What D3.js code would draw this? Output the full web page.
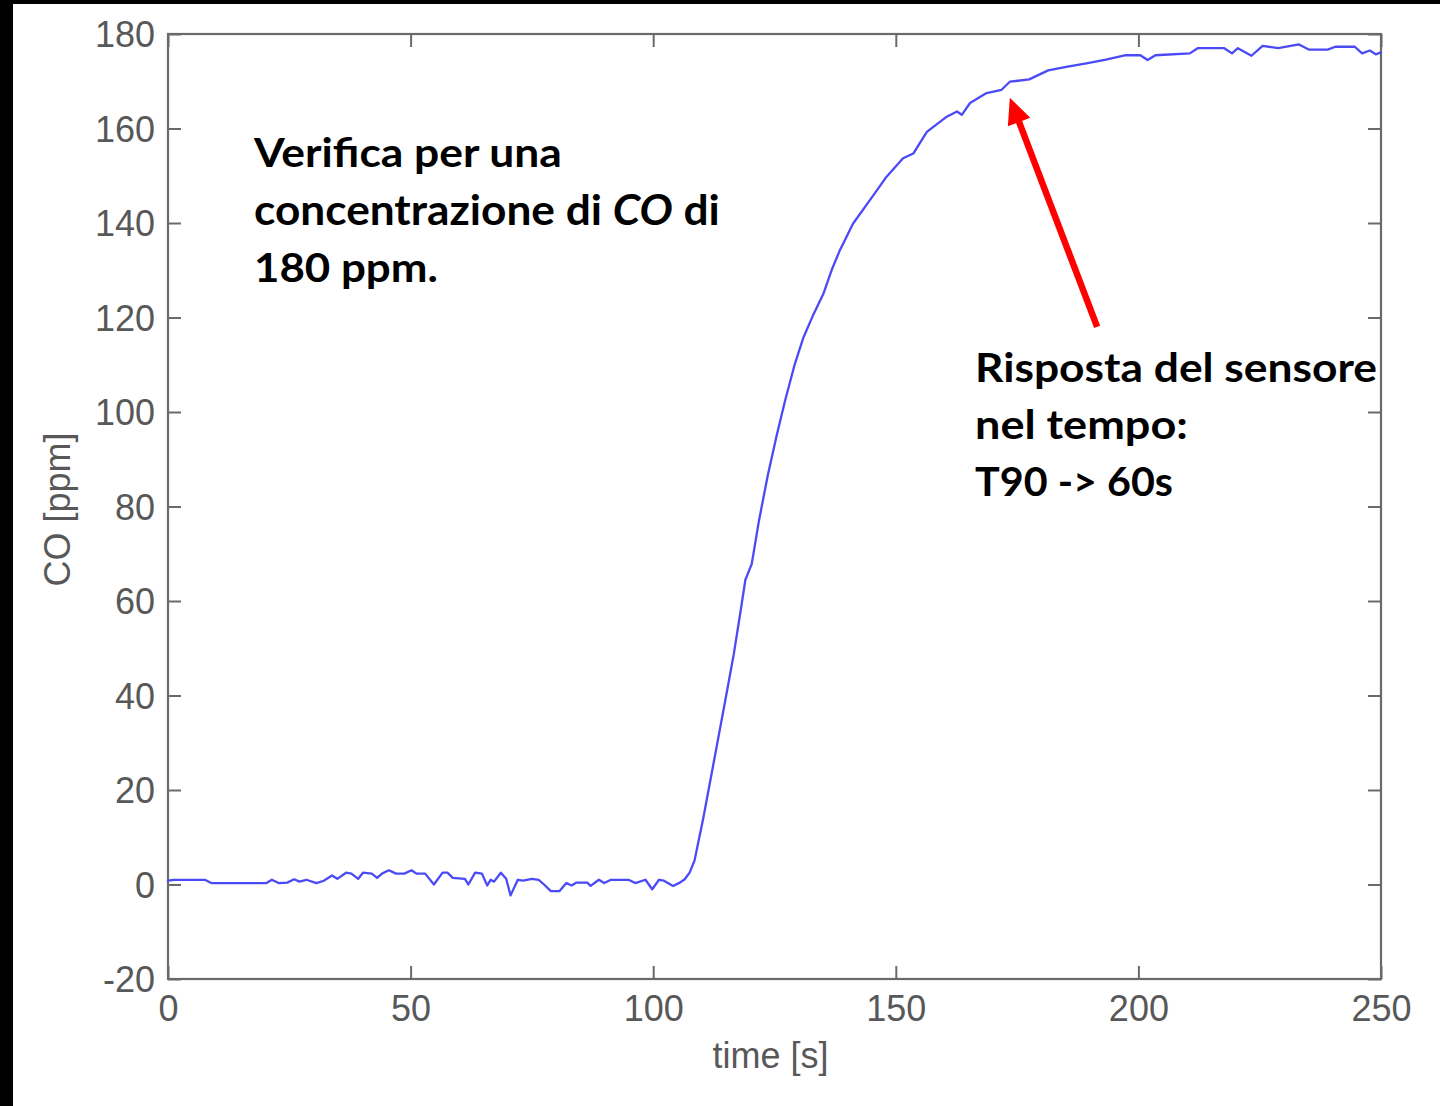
<!DOCTYPE html>
<html><head><meta charset="utf-8">
<script src="https://cdn.jsdelivr.net/npm/d3@7"></script>
<style>html,body{margin:0;padding:0;background:#fff;overflow:hidden;} svg{display:block;}</style>
</head><body>
<svg id="chart" width="1440" height="1106"></svg>
<script>
// ---- data ----
const timeS = [0, 1.2, 7.6, 8.9, 20.3, 21.4, 22.8, 24.6, 26.0, 27.1, 28.5, 30.6, 32.1, 33.8, 34.9, 36.7, 37.8, 39.2, 40.2, 42.0, 43.1, 44.1, 45.5, 47.0, 48.7, 50.2, 51.2, 53.0, 54.8, 56.6, 57.6, 58.7, 61.2, 61.9, 63.3, 64.7, 65.8, 66.5, 67.2, 68.6, 69.7, 70.6, 72.1, 73.2, 75.0, 76.4, 77.5, 78.9, 80.7, 82.1, 83.2, 84.2, 86.4, 87.1, 88.8, 89.9, 91.3, 94.9, 96.3, 98.4, 99.8, 101.2, 102.2, 104.1, 105.5, 106.5, 107.5, 108.5, 110.3, 112.5, 114.7, 116.6, 118.0, 119.0, 120.3, 121.8, 123.6, 125.4, 127.2, 129.2, 130.9, 133.0, 135.1, 136.8, 138.5, 141.2, 144.7, 148.1, 151.5, 153.6, 156.4, 160.5, 162.6, 163.6, 165.3, 168.7, 171.8, 173.5, 177.5, 181.4, 185.4, 189.3, 193.3, 197.2, 200.4, 201.9, 203.5, 210.6, 212.2, 217.7, 219.3, 220.5, 223.3, 225.6, 228.8, 233.1, 235.1, 239.0, 240.6, 244.6, 246.1, 247.7, 248.9, 250];
const coPpm = [0.8, 1.0, 1.0, 0.3, 0.3, 1.0, 0.3, 0.4, 1.1, 0.6, 1.0, 0.3, 0.8, 1.9, 1.2, 2.5, 2.3, 1.2, 2.5, 2.3, 1.4, 2.3, 3.0, 2.3, 2.3, 3.0, 2.3, 2.3, 0.0, 2.5, 2.5, 1.4, 1.2, 0.0, 2.5, 2.3, -0.2, 1.0, 0.6, 2.5, 1.2, -2.3, 1.0, 0.8, 1.2, 1.0, 0.0, -1.4, -1.4, 0.3, -0.2, 0.4, 0.4, -0.3, 1.0, 0.3, 1.0, 1.0, 0.3, 1.0, -1.0, 1.0, 0.8, -0.3, 0.4, 1.1, 2.5, 5.0, 13.9, 26.0, 38.1, 48.7, 57.8, 64.5, 67.8, 77.0, 86.5, 94.8, 102.5, 110.2, 115.6, 120.6, 125.1, 130.1, 134.3, 139.9, 144.9, 149.8, 153.7, 154.7, 159.3, 162.5, 163.6, 162.9, 165.4, 167.5, 168.2, 169.9, 170.4, 172.3, 173.1, 173.8, 174.6, 175.5, 175.5, 174.5, 175.5, 175.9, 177.0, 177.0, 175.9, 177.0, 175.4, 177.5, 177.0, 177.8, 176.7, 176.7, 177.3, 177.3, 175.9, 176.5, 175.7, 176.1];
const xTicks = [0, 50, 100, 150, 200, 250];
const yTicks = [-20, 0, 20, 40, 60, 80, 100, 120, 140, 160, 180];
const xDomain = [0, 250];
const yDomain = [-20, 180];
const xLabel = "time [s]";
const yLabel = "CO [ppm]";
// annotation arrow (data coords): tail -> tip
const arrowTail = [191.5, 118.0];
const arrowTip = [173.5, 166.5];
// annotation texts: each line is a list of [text, italic]
const noteLeft = [
  [["Verifica per una", false]],
  [["concentrazione di ", false], ["CO", true], [" di", false]],
  [["180 ppm.", false]]
];
const noteLeftWidths = [308, 466, 184];
const noteRight = [
  [["Risposta del sensore", false]],
  [["nel tempo:", false]],
  [["T90 -> 60s", false]]
];
const noteRightWidths = [402, 213, 198];

// ---- layout ----
const svg = d3.select("#chart");
const W = 1440, H = 1106;
const plot = {left: 168, right: 1381, top: 34, bottom: 979};

svg.append("rect").attr("width", W).attr("height", H).attr("fill", "#fff");
// black margins from the original slide crop
svg.append("rect").attr("x", 0).attr("y", 0).attr("width", 13).attr("height", H).attr("fill", "#000");
svg.append("rect").attr("x", 0).attr("y", 0).attr("width", W).attr("height", 4).attr("fill", "#000");

const x = d3.scaleLinear().domain(xDomain).range([plot.left, plot.right]);
const y = d3.scaleLinear().domain(yDomain).range([plot.bottom, plot.top]);

const axisColor = "#6a6a6a";
const labelColor = "#585858";
const tickLen = 13;
const tickFont = "'Liberation Sans', Arial, sans-serif";
const fmt = d => String(d);

function styleAxis(g, showLabels) {
  g.select(".domain").remove();
  g.selectAll(".tick line").attr("stroke", axisColor).attr("stroke-width", 2);
  g.selectAll(".tick text")
    .attr("fill", labelColor)
    .style("font-family", tickFont)
    .style("font-size", "36px");
  if (!showLabels) g.selectAll(".tick text").remove();
}

// bottom axis
const gB = svg.append("g").attr("transform", `translate(0,${plot.bottom})`)
  .call(d3.axisBottom(x).tickValues(xTicks).tickSize(-tickLen).tickPadding(0).tickFormat(fmt));
styleAxis(gB, true);
gB.selectAll(".tick text").attr("y", 0).attr("dy", null).attr("dominant-baseline", "alphabetic")
  .attr("transform", "translate(0,42)");
// top axis (ticks only)
const gT = svg.append("g").attr("transform", `translate(0,${plot.top})`)
  .call(d3.axisTop(x).tickValues(xTicks).tickSize(-tickLen));
styleAxis(gT, false);
// left axis
const gL = svg.append("g").attr("transform", `translate(${plot.left},0)`)
  .call(d3.axisLeft(y).tickValues(yTicks).tickSize(-tickLen).tickPadding(13).tickFormat(fmt));
styleAxis(gL, true);
gL.selectAll(".tick text").attr("x", -13).attr("dy", "0.36em");
// right axis (ticks only)
const gR = svg.append("g").attr("transform", `translate(${plot.right},0)`)
  .call(d3.axisRight(y).tickValues(yTicks).tickSize(-tickLen));
styleAxis(gR, false);

// frame
svg.append("rect")
  .attr("x", plot.left).attr("y", plot.top)
  .attr("width", plot.right - plot.left).attr("height", plot.bottom - plot.top)
  .attr("fill", "none").attr("stroke", axisColor).attr("stroke-width", 2.2);

// axis labels
svg.append("text")
  .attr("x", (plot.left + plot.right) / 2 - 4).attr("y", 1068)
  .attr("text-anchor", "middle")
  .attr("fill", labelColor)
  .style("font-family", tickFont).style("font-size", "36px")
  .text(xLabel);
svg.append("text")
  .attr("transform", `translate(70,${(plot.top + plot.bottom) / 2 + 3}) rotate(-90)`)
  .attr("text-anchor", "middle")
  .attr("fill", labelColor)
  .style("font-family", tickFont).style("font-size", "36px")
  .text(yLabel);

// data line
const data = timeS.map((t, i) => ({t, v: coPpm[i]}));
const line = d3.line().x(d => x(d.t)).y(d => y(d.v)).curve(d3.curveLinear);
svg.append("path")
  .datum(data)
  .attr("d", line)
  .attr("fill", "none")
  .attr("stroke", "#4a4af6")
  .attr("stroke-width", 2.3)
  .attr("stroke-linejoin", "round")
  .attr("stroke-linecap", "round");

// red arrow
(function () {
  const x0 = x(arrowTail[0]), y0 = y(arrowTail[1]);
  const x1 = x(arrowTip[0]), y1 = y(arrowTip[1]);
  const dx = x1 - x0, dy = y1 - y0, len = Math.hypot(dx, dy);
  const ux = dx / len, uy = dy / len, px = -uy, py = ux;
  const headL = 26, headW = 12;
  const bx = x1 - ux * headL, by = y1 - uy * headL;
  svg.append("line")
    .attr("x1", x0).attr("y1", y0).attr("x2", bx + ux * 2).attr("y2", by + uy * 2)
    .attr("stroke", "#ff0000").attr("stroke-width", 6.5);
  svg.append("path")
    .attr("d", `M${x1},${y1}L${bx + px * headW},${by + py * headW}L${bx - px * headW},${by - py * headW}Z`)
    .attr("fill", "#ff0000");
})();

// annotation texts
const noteFont = "Lato, 'Open Sans', sans-serif";
function drawNote(lines, widths, x0, baseline0, step) {
  lines.forEach((parts, i) => {
    const g = svg.append("g");
    const t = g.append("text")
      .attr("x", 0).attr("y", 0)
      .attr("fill", "#000")
      .style("font-family", noteFont)
      .style("font-weight", "bold")
      .style("font-size", "41px");
    parts.forEach(([s, it]) => {
      t.append("tspan").style("font-style", it ? "italic" : "normal").text(s);
    });
    const w = t.node().getComputedTextLength();
    const sx = widths[i] / w;
    g.attr("transform", `translate(${x0},${baseline0 + i * step}) scale(${sx},1)`);
  });
}
drawNote(noteLeft, noteLeftWidths, 254, 167, 57.5);
drawNote(noteRight, noteRightWidths, 975, 382, 56.8);
</script>
</body></html>
